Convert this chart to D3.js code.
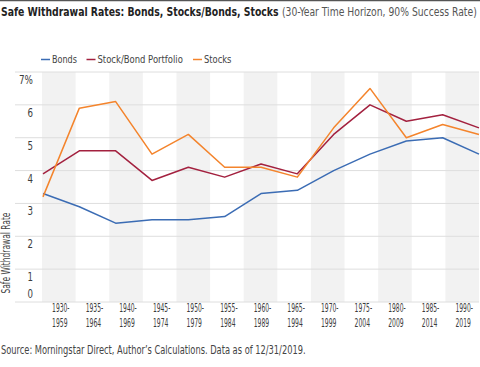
<!DOCTYPE html>
<html><head><meta charset="utf-8">
<script src="https://cdn.jsdelivr.net/npm/d3@7/dist/d3.min.js"></script>
<style>
body{margin:0;background:#fff;}
svg{display:block;font-family:'DejaVu Sans Condensed','Liberation Sans Narrow',sans-serif;}
</style></head><body>
<svg id="chart" width="480" height="367"></svg>
<script>
const categoriesTop = ["1930-","1935-","1940-","1945-","1950-","1955-","1960-","1965-","1970-","1975-","1980-","1985-","1990-"];
const categoriesBottom = ["1959","1964","1969","1974","1979","1984","1989","1994","1999","2004","2009","2014","2019"];
const bonds = [3.3,2.9,2.4,2.5,2.5,2.6,3.3,3.4,4.0,4.5,4.9,5.0,4.5];
const stockBond = [3.9,4.6,4.6,3.7,4.1,3.8,4.2,3.9,5.1,6.0,5.5,5.7,5.3];
const stocks = [3.2,5.9,6.1,4.5,5.1,4.1,4.1,3.8,5.3,6.5,5.0,5.4,5.1];
const yTicks = [0,1,2,3,4,5,6,7];
const seriesNames = ["Bonds","Stock/Bond Portfolio","Stocks"];
const seriesColors = ["#3b6cb4","#a3213f","#f4842c"];

(function(){
const svg = d3.select("#chart");
const pL = 42, pR = 479, pT = 72, pB = 302;
const idx = d3.range(categoriesTop.length);
const xBand = d3.scaleBand().domain(idx).range([pL, pR]).padding(0);
const xPoint = d3.scalePoint().domain(idx).range([pL + 1, pR]).padding(0);
const y = d3.scaleLinear().domain([0,7]).range([pB, pT]);

// place a text so that its left edge is at x (or centred / right-aligned) and it is w pixels wide
function put(parent, str, x, yy, w, opts) {
  const o = Object.assign({size: 11.5, fill: "#444", weight: "normal", anchor: "start", rotate: false}, opts || {});
  const t = parent.append("text").attr("x", 0).attr("y", 0)
    .attr("font-size", o.size).attr("font-weight", o.weight).attr("fill", o.fill).text(str);
  const nat = t.node().getComputedTextLength() || w;
  const sx = w / nat;
  let x0 = x;
  if (o.anchor === "middle") x0 = x - w / 2;
  if (o.anchor === "end") x0 = x - w;
  if (o.rotate) {
    t.attr("transform", `translate(${x},${yy + w/2}) rotate(-90) scale(${sx},1)`);
  } else {
    t.attr("transform", `translate(${x0},${yy}) scale(${sx},1)`);
  }
  return t;
}

// top rule
svg.append("line").attr("x1",0).attr("x2",480).attr("y1",0.5).attr("y2",0.5).attr("stroke","#555").attr("stroke-width",1.5);

// title
put(svg, "Safe Withdrawal Rates: Bonds, Stocks/Bonds, Stocks", 1, 15.5, 278, {size: 12, weight: "bold", fill: "#222"});
put(svg, "(30-Year Time Horizon, 90% Success Rate)", 282, 15.5, 195, {size: 12, fill: "#555"});

// bands
svg.append("g").selectAll("rect").data(idx.filter(i => i % 2 === 0)).join("rect")
  .attr("x", i => xBand(i)).attr("y", pT).attr("width", xBand.bandwidth()).attr("height", pB - pT)
  .attr("fill","#f2f2f2");

// gridlines & y labels
const yg = svg.append("g");
yg.selectAll("line").data(yTicks).join("line")
  .attr("x1",15).attr("x2",pR).attr("y1",d => y(d)).attr("y2",d => y(d))
  .attr("stroke","#dedede").attr("stroke-width",1);
yTicks.forEach(d => {
  const yy = d === 0 ? y(d) - 4 : y(d) + 12;
  put(yg, d === 7 ? "7%" : String(d), 33, yy, d === 7 ? 14 : 5.5, {anchor: "end", fill: "#3c3c3c"});
});

// y axis title
put(svg, "Safe Withdrawal Rate", 9.5, 253, 81, {rotate: true});

// x labels
const xg = svg.append("g");
idx.forEach(i => {
  const cx = xBand(i) + xBand.bandwidth() / 2;
  put(xg, categoriesTop[i], cx + 2, 311.5, 17.5, {anchor: "middle", fill: "#3c3c3c"});
  put(xg, categoriesBottom[i], cx + 1, 326.5, 15.5, {anchor: "middle", fill: "#3c3c3c"});
});

// lines
const line = d3.line().x((d,i) => xPoint(i)).y(d => y(d));
[bonds, stockBond, stocks].forEach((s, k) => {
  svg.append("path").datum(s).attr("d", line).attr("fill","none")
    .attr("stroke", seriesColors[k]).attr("stroke-width",1.5).attr("stroke-linejoin","round");
});

// legend
const legendX = [41, 86.5, 193];
const legendW = [25, 85.5, 27.5];
const lg = svg.append("g");
seriesNames.forEach((n, k) => {
  lg.append("line").attr("x1",legendX[k]).attr("x2",legendX[k]+9).attr("y1",59.5).attr("y2",59.5)
    .attr("stroke",seriesColors[k]).attr("stroke-width",1.5);
  put(lg, n, legendX[k] + 11, 63, legendW[k], {size: 11});
});

// source
put(svg, "Source: Morningstar Direct, Author\u2019s Calculations. Data as of 12/31/2019.", 1, 354, 305, {size: 11.5});
})();
</script>
</body></html>
